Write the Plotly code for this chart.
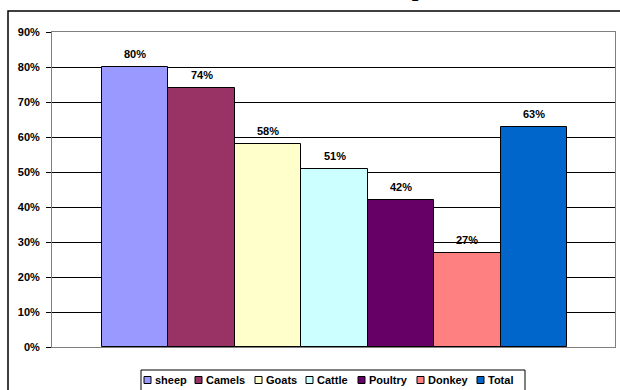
import plotly.graph_objects as go

# Share of households keeping each kind of livestock
animals = ["sheep", "Camels", "Goats", "Cattle", "Poultry", "Donkey", "Total"]
shares = [0.80, 0.74, 0.58, 0.51, 0.42, 0.27, 0.63]
colors = ["#9999FF", "#993366", "#FFFFCC", "#CCFFFF", "#660066", "#FF8080", "#0066CC"]
y_ticks = [0.0, 0.1, 0.2, 0.3, 0.4, 0.5, 0.6, 0.7, 0.8, 0.9]

FONT = "Arial, Liberation Sans, sans-serif"

W, H = 620, 390
L, R, T, B = 52, 5, 32, 43
pw, ph = W - L - R, H - T - B


def px_x(p):
    """Figure pixel column -> paper x."""
    return (p - L) / pw


def px_y(p):
    """Figure pixel row -> paper y."""
    return (H - B - p) / ph


fig = go.Figure()
for name, val, col in zip(animals, shares, colors):
    fig.add_trace(go.Bar(
        x=[name], y=[val], name=name,
        marker=dict(color=col, line=dict(color="#000000", width=1)),
        hoverinfo="skip",
    ))

# value labels above the bars
annotations = [
    dict(x=name, y=val, xref="x", yref="y", text=f"{val:.0%}",
         showarrow=False, yanchor="bottom", yshift=5,
         font=dict(family=FONT, size=11, color="#000000", weight="bold"))
    for name, val in zip(animals, shares)
]

# chart title (sits mostly above the top edge of the page)
annotations.append(dict(
    text="Livestock Ownership", xref="paper", yref="paper",
    x=px_x(316), y=px_y(2.5), xanchor="center", yanchor="bottom",
    showarrow=False,
    font=dict(family="Times New Roman, Liberation Serif, serif", size=24,
              color="#000000", weight="bold"),
))

shapes = [
    # outer chart frame
    dict(type="rect", xref="paper", yref="paper",
         x0=px_x(8), x1=px_x(626), y0=px_y(396), y1=px_y(11),
         line=dict(color="#000000", width=1.5), layer="below"),
    # legend frame
    dict(type="rect", xref="paper", yref="paper",
         x0=px_x(141), x1=px_x(525), y0=px_y(396), y1=px_y(370),
         line=dict(color="#000000", width=1), fillcolor="#FFFFFF", layer="below"),
]

# legend entries: swatch + label, laid out in one row
LEGEND_X = [144, 195, 255, 306, 358, 417, 477]
LEGEND_ROW = 380
SW = 7
for x0, name, col in zip(LEGEND_X, animals, colors):
    shapes.append(dict(
        type="rect", xref="paper", yref="paper",
        x0=px_x(x0), x1=px_x(x0 + SW),
        y0=px_y(LEGEND_ROW + SW / 2), y1=px_y(LEGEND_ROW - SW / 2),
        line=dict(color="#000000", width=1), fillcolor=col,
    ))
    annotations.append(dict(
        text=name, xref="paper", yref="paper",
        x=px_x(x0 + SW + 3), y=px_y(LEGEND_ROW), xanchor="left", yanchor="middle",
        showarrow=False, borderpad=0,
        font=dict(family=FONT, size=11, color="#000000", weight="bold"),
    ))

n = len(animals)
fig.update_layout(
    width=W, height=H,
    margin=dict(l=L, r=R, t=T, b=B, pad=0),
    paper_bgcolor="#FFFFFF", plot_bgcolor="#FFFFFF",
    barmode="overlay", bargap=0,
    font=dict(family=FONT, size=11, color="#000000"),
    showlegend=False,
    xaxis=dict(
        type="category", categoryorder="array", categoryarray=animals,
        range=[-1.253, n - 1 + 1.223],
        showticklabels=False, ticks="", showgrid=False, zeroline=False,
        showline=True, linecolor="#808080", linewidth=1, mirror=True,
    ),
    yaxis=dict(
        range=[0, 0.9], tickvals=y_ticks, tickformat=".0%",
        ticks="outside", ticklen=5, tickcolor="#000000", tickwidth=1,
        ticklabelstandoff=4,
        tickfont=dict(family=FONT, size=11, color="#000000", weight="bold"),
        showgrid=True, gridcolor="#000000", gridwidth=1, zeroline=False,
        showline=True, linecolor="#808080", linewidth=1, mirror=True,
    ),
    shapes=shapes,
    annotations=annotations,
)

fig.write_html("out.html")
